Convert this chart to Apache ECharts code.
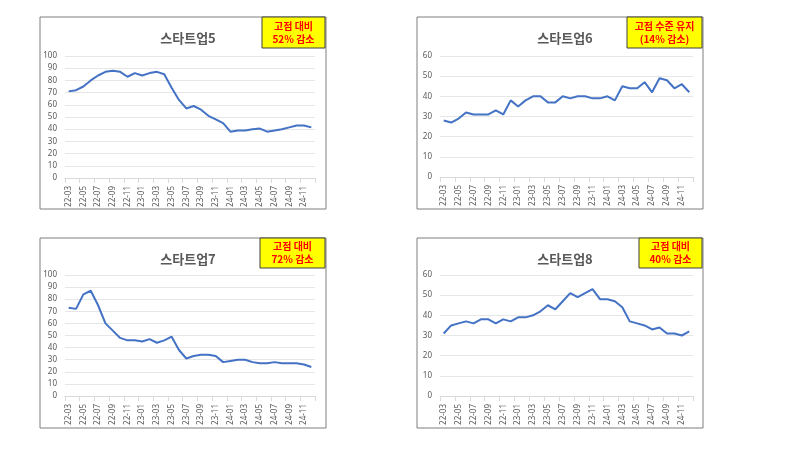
<!DOCTYPE html>
<html><head><meta charset="utf-8">
<script src="https://cdn.jsdelivr.net/npm/echarts@6/dist/echarts.min.js"></script>
<style>html,body{margin:0;background:#fff}#c{width:800px;height:450px}</style>
</head><body><div id="c"></div>
<script>
const months = [];
for (const y of ['22','23','24']) for (let m=1;m<=12;m++){ if(y==='22'&&m<3) continue; months.push(y+'-'+String(m).padStart(2,'0')); }
const titles = ['스타트업5','스타트업6','스타트업7','스타트업8'];
const callouts = ['고점 대비\n52% 감소','고점 수준 유지\n(14% 감소)','고점 대비\n72% 감소','고점 대비\n40% 감소'];
const s5 = [71,72,75,80,84,87,88,87,83,86,84,86,87,85,74,64,57,59,56,51,48,45,38,39,39,40,40.5,38,39,40,41.5,43,43,41.5];
const s6 = [28,27,29,32,31,31,31,33,31,38,35,38,40,40,37,37,40,39,40,40,39,39,40,38,45,44,44,47,42,49,48,44,46,42];
const s7 = [73,72,84,87,75,60,54,48,46,46,45,47,44,46,49,38,31,33,34,34,33,28,29,30,30,28,27,27,28,27,27,27,26,24];
const s8 = [31,35,36,37,36,38,38,36,38,37,39,39,40,42,45,43,47,51,49,51,53,48,48,47,44,37,36,35,33,34,31,31,30,32];
const yMax = [100,60,100,60];
const series = [s5,s6,s7,s8];

const boxes = [[40,17,286,192],[417,17,286,192],[40,238,286,190],[417,238,286,190]];
const grids = [[65,56,250,122],[440,56,253,121],[65,275,250,121],[440,275,253,121]];
const calloutBoxes = [[262,17,63,31],[627,17,75,31],[260,238,65,30],[639,238,63,30]];

const chart = echarts.init(document.getElementById('c'));
const graphic = [];
boxes.forEach(b=>graphic.push({type:'rect',shape:{x:b[0],y:b[1],width:b[2],height:b[3]},style:{fill:'none',stroke:'#7f7f7f',lineWidth:1},z:-1}));
calloutBoxes.forEach((b,i)=>{
  graphic.push({type:'rect',shape:{x:b[0],y:b[1],width:b[2],height:b[3]},style:{fill:'#ffff00',stroke:'#404040',lineWidth:1}});
  graphic.push({type:'text',x:b[0]+b[2]/2,y:b[1]+b[3]/2,style:{text:callouts[i],fill:'#ff0000',font:'bold 10px "Noto Sans CJK KR"',align:'center',verticalAlign:'middle',lineHeight:13}});
});
chart.setOption({
  animation:false,
  graphic,
  title: titles.map((t,i)=>({text:t,left:boxes[i][0]+boxes[i][2]/2,top:boxes[i][1]+10,textAlign:'center',textStyle:{fontSize:13,fontWeight:'bold',color:'#595959',fontFamily:'Noto Sans CJK KR'}})),
  grid: grids.map(g=>({left:g[0],top:g[1],width:g[2],height:g[3]})),
  xAxis: grids.map((g,i)=>({type:'category',gridIndex:i,data:months,boundaryGap:true,
    axisLine:{lineStyle:{color:'#d9d9d9'}},axisTick:{show:true,interval:1,lineStyle:{color:'#d9d9d9'}},
    axisLabel:{interval:1,rotate:90,fontSize:8,color:'#595959',fontFamily:'Noto Sans'}})),
  yAxis: grids.map((g,i)=>({type:'value',gridIndex:i,min:0,max:yMax[i],interval:10,
    axisLine:{show:false},axisTick:{show:false},splitLine:{lineStyle:{color:'#e6e6e6'}},
    axisLabel:{fontSize:8,color:'#595959',fontFamily:'Noto Sans'}})),
  series: series.map((d,i)=>({type:'line',xAxisIndex:i,yAxisIndex:i,data:d,symbol:'none',lineStyle:{color:'#4472c4',width:2}}))
});
</script></body></html>
